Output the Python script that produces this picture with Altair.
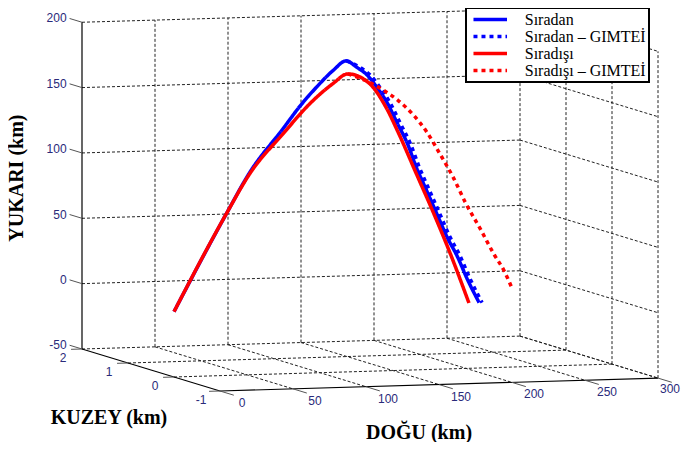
import altair as alt
import pandas as pd

# ---------------- data (km) ----------------
series_names = ["Sıradan", "Sıradan – GIMTEİ", "Sıradışı", "Sıradışı – GIMTEİ"]
series_colors = ["#0000ff", "#0000ff", "#ff0000", "#ff0000"]

sira_east = [0, 36, 52, 75, 86, 98, 109, 118, 125, 132, 139, 146, 153, 160, 166, 173, 180, 187, 194, 201, 209]
sira_up = [0, 74, 105, 138, 154, 169, 181, 188, 183, 177, 167, 155, 139, 123, 105, 87, 69, 51, 36, 18, 0]

sira_g_east = [118, 127, 134, 141, 148, 155, 162, 168, 175, 182, 189, 196, 203, 211]
sira_g_up = [188, 183, 177, 167, 155, 139, 123, 105, 87, 69, 51, 36, 18, 0]

disi_east = [0, 36, 52, 75, 93, 109, 119, 134, 145, 154, 166, 178, 190, 202]
disi_up = [0, 74, 104, 134, 156, 171, 178, 170, 152, 131, 100, 69, 36, 0]

disi_g_east = [119, 134, 143, 153, 164, 173, 182, 191, 200, 210, 219, 226, 232]
disi_g_up = [178, 171, 165, 157, 145, 132, 115, 97, 76, 56, 37, 24, 9]

north_of_track = 0  # trajectories lie in the KUZEY = 0 plane

east_ticks = [0, 50, 100, 150, 200, 250, 300]
north_ticks = [2, 1, 0, -1]
up_ticks = [-50, 0, 50, 100, 150, 200]

# ---------------- view (oblique 3-D projection) ----------------
KXE, KXN = 1.46, 46.0
KYE, KYN, KYU = 0.043, 14.0, 1.307
N_BACK, U_FLOOR = max(north_ticks), min(up_ticks)
E_MIN, E_MAX = min(east_ticks), max(east_ticks)
N_FRONT = min(north_ticks)
U_TOP = max(up_ticks)


def proj(suffix=""):
    e, n, u = f"datum.E{suffix}", f"datum.N{suffix}", f"datum.U{suffix}"
    return {
        f"px{suffix}": f"{KXE}*{e} + {KXN}*({N_BACK} - {n})",
        f"py{suffix}": f"{KYE}*{e} - {KYN}*({N_BACK} - {n}) + {KYU}*({u} - ({U_FLOOR}))",
    }


W, H = 673, 434
xs = alt.Scale(domain=[-74, W - 74], nice=False, zero=False)
ys = alt.Scale(domain=[-93, H - 93], nice=False, zero=False)

# ---------------- trajectories ----------------
rows = []
for name, es, us in [
    (series_names[0], sira_east, sira_up),
    (series_names[1], sira_g_east, sira_g_up),
    (series_names[2], disi_east, disi_up),
    (series_names[3], disi_g_east, disi_g_up),
]:
    for i, (e, u) in enumerate(zip(es, us)):
        rows.append({"series": name, "i": i, "E": e, "N": north_of_track, "U": u})
traj = pd.DataFrame(rows)

color_scale = alt.Scale(domain=series_names, range=series_colors)
dash_scale = alt.Scale(domain=series_names, range=[[1, 0], [4, 4], [1, 0], [4, 4]])

PAD = "\u2003\u2002"
LEG = dict(title=None, labelFont="Liberation Serif", labelFontSize=16, labelColor="black",
           labelExpr=f"datum.label + '{PAD}'")

traj_layers = []
for name in series_names:
    traj_layers.append(
        alt.Chart(traj)
        .transform_filter(alt.datum.series == name)
        .transform_calculate(**proj())
        .mark_line(strokeWidth=3.5, strokeCap="butt", interpolate="monotone")
        .encode(
            x=alt.X("px:Q", scale=xs, axis=None),
            y=alt.Y("py:Q", scale=ys, axis=None),
            order=alt.Order("i:Q"),
            color=alt.Color("series:N", scale=color_scale, legend=alt.Legend(**LEG)),
            strokeDash=alt.StrokeDash("series:N", scale=dash_scale, legend=alt.Legend(**LEG)),
        )
    )

# ---------------- box, grid and ticks ----------------
grid, solid, ticks = [], [], []


def seg(lst, a, b):
    lst.append({"E": a[0], "N": a[1], "U": a[2], "E2": b[0], "N2": b[1], "U2": b[2]})


for e in east_ticks[1:]:
    seg(grid, (e, N_BACK, U_FLOOR), (e, N_BACK, U_TOP))          # back wall verticals
    seg(grid, (e, N_BACK, U_FLOOR), (e, N_FRONT, U_FLOOR))       # floor lines
for u in up_ticks:
    seg(grid, (E_MIN, N_BACK, u), (E_MAX, N_BACK, u))            # back wall horizontals
    seg(grid, (E_MAX, N_BACK, u), (E_MAX, N_FRONT, u))           # right wall horizontals
for n in north_ticks[1:]:
    seg(grid, (E_MAX, n, U_FLOOR), (E_MAX, n, U_TOP))            # right wall verticals
for n in north_ticks[1:-1]:
    seg(grid, (E_MIN, n, U_FLOOR), (E_MAX, n, U_FLOOR))          # floor lines

seg(solid, (E_MIN, N_BACK, U_FLOOR), (E_MIN, N_BACK, U_TOP))
seg(solid, (E_MIN, N_BACK, U_FLOOR), (E_MIN, N_FRONT, U_FLOOR))
seg(solid, (E_MIN, N_FRONT, U_FLOOR), (E_MAX, N_FRONT, U_FLOOR))

for u in up_ticks:
    seg(ticks, (E_MIN, N_BACK, u), (E_MIN, N_BACK + 0.27, u))
for n in north_ticks:
    seg(ticks, (E_MIN, n, U_FLOOR), (E_MIN - 7.5, n, U_FLOOR))
for e in east_ticks:
    seg(ticks, (e, N_FRONT, U_FLOOR), (e, N_FRONT - 0.3, U_FLOOR))


def rules(data, **style):
    return (
        alt.Chart(pd.DataFrame(data))
        .transform_calculate(**proj(), **proj("2"))
        .mark_rule(**style)
        .encode(
            x=alt.X("px:Q", scale=xs, axis=None),
            y=alt.Y("py:Q", scale=ys, axis=None),
            x2="px2:Q",
            y2="py2:Q",
        )
    )


grid_layer = rules(grid, color="#222222", strokeWidth=1, strokeDash=[3, 2])
solid_layer = rules(solid, color="#000000", strokeWidth=1.2)
tick_layer = rules(ticks, color="#555555", strokeWidth=1)

# ---------------- tick labels ----------------
LABEL_COLOR = "#2a2a7a"


def labels(data, **style):
    return (
        alt.Chart(pd.DataFrame(data))
        .transform_calculate(**proj())
        .mark_text(font="Liberation Sans", fontSize=12, color=LABEL_COLOR, **style)
        .encode(
            x=alt.X("px:Q", scale=xs, axis=None),
            y=alt.Y("py:Q", scale=ys, axis=None),
            text="t:N",
        )
    )


up_lab = labels(
    [{"E": E_MIN, "N": N_BACK + 0.27, "U": u, "t": str(u)} for u in up_ticks],
    align="right", baseline="middle", dx=-3,
)
north_lab = labels(
    [{"E": E_MIN, "N": n, "U": U_FLOOR, "t": str(n)} for n in north_ticks],
    align="center", baseline="middle", dx=-19, dy=9,
)
east_lab = labels(
    [{"E": e, "N": N_FRONT, "U": U_FLOOR, "t": str(e)} for e in east_ticks[:-1]],
    align="center", baseline="middle", dx=22, dy=12,
)
east_lab_last = labels(
    [{"E": e, "N": N_FRONT, "U": U_FLOOR, "t": str(e)} for e in east_ticks[-1:]],
    align="right", baseline="middle", dx=22, dy=11,
)

# ---------------- axis titles ----------------


def title(text, anchor, **style):
    return (
        alt.Chart(pd.DataFrame([{"E": anchor[0], "N": anchor[1], "U": anchor[2], "t": text}]))
        .transform_calculate(**proj())
        .mark_text(font="Liberation Serif", fontSize=20, fontWeight="bold", color="black",
                   align="center", baseline="middle", **style)
        .encode(
            x=alt.X("px:Q", scale=xs, axis=None),
            y=alt.Y("py:Q", scale=ys, axis=None),
            text="t:N",
        )
    )


t_up = title("YUKARI  (km)", (E_MIN, N_BACK, 75), angle=270, dx=7.5, dy=-65)
t_north = title("KUZEY (km)", (E_MIN, 0.5, U_FLOOR), dx=-42, dy=48)
t_east = title("DOĞU (km)", (150, N_FRONT, U_FLOOR), dx=-20, dy=48)

chart = (
    alt.layer(
        grid_layer, solid_layer, tick_layer,
        *traj_layers,
        up_lab, north_lab, east_lab, east_lab_last,
        t_up, t_north, t_east,
    )
    .properties(width=W, height=H, autosize=alt.AutoSizeParams(type="none"),
                padding={"left": 0, "right": 0, "top": 0, "bottom": 0})
    .configure_view(stroke=None)
    .configure_legend(
        orient="none", legendX=458, legendY=0,
        strokeColor="black", strokeWidth=2, fillColor="white",
        padding=3, symbolType="M-2.5,0H2.5", symbolSize=180, symbolStrokeWidth=3.5,
        symbolOffset=12.75,
        labelFont="Liberation Serif", labelFontSize=16, labelColor="black",
        labelOffset=26, rowPadding=0, labelLimit=400,
    )
)

chart.save("out.html", embed_options={"renderer": "svg", "actions": False})
